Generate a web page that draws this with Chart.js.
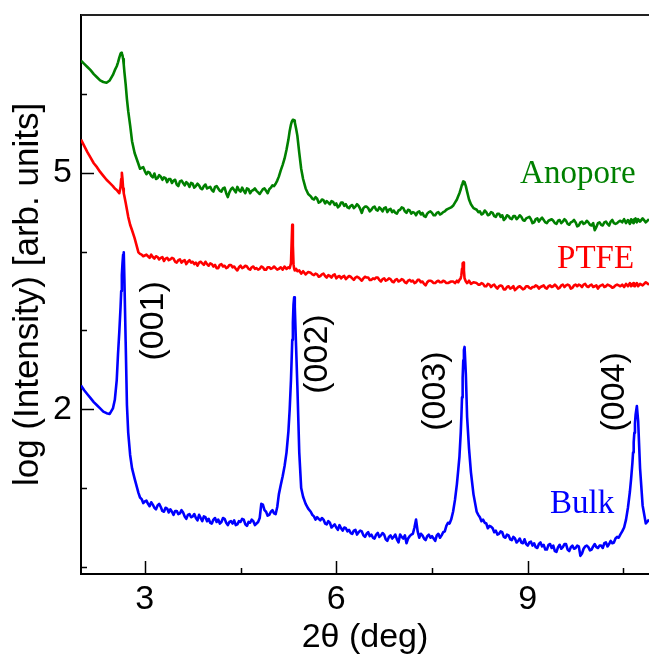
<!DOCTYPE html>
<html>
<head>
<meta charset="utf-8">
<script src="https://cdn.jsdelivr.net/npm/chart.js@4/dist/chart.umd.min.js"></script>
<style>
html,body{margin:0;padding:0;background:#fff;}
#wrap{position:relative;width:649px;height:658px;}
</style>
</head>
<body>
<div id="wrap"><canvas id="c" width="649" height="658"></canvas></div>
<script>
// 2θ grid (deg)
const twoTheta = [
2.00,2.05,2.10,2.15,2.20,2.25,2.30,2.35,2.40,2.45,2.50,
2.53,2.56,2.58,2.60,2.62,2.63,2.64,2.65,2.66,2.67,2.68,2.70,2.72,2.74,2.77,2.80,2.84,
2.900,2.925,2.950,2.975,3.000,3.025,3.050,3.075,3.100,3.125,3.150,3.175,3.200,3.225,3.250,3.275,3.300,3.325,3.350,3.375,3.400,3.425,3.450,3.475,3.500,3.525,3.550,3.575,3.600,3.625,3.650,3.675,3.700,3.725,3.750,3.775,3.800,3.825,3.850,3.875,3.900,3.925,3.950,3.975,4.000,4.025,4.050,4.075,4.100,4.125,4.150,4.175,4.200,4.225,4.250,4.275,4.300,4.325,4.350,4.375,4.400,4.425,4.450,4.475,4.500,4.525,4.550,4.575,4.600,4.625,4.650,4.675,4.700,4.725,4.750,4.775,4.800,4.825,4.850,4.875,4.900,4.925,4.950,4.975,5.000,5.025,5.050,5.075,5.100,
5.13,5.16,5.19,5.22,5.25,5.27,5.29,5.30,5.31,5.32,5.33,5.34,5.35,5.37,5.39,5.42,5.45,5.48,5.52,5.56,
5.600,5.625,5.650,5.675,5.700,5.725,5.750,5.775,5.800,5.825,5.850,5.875,5.900,5.925,5.950,5.975,6.000,6.025,6.050,6.075,6.100,6.125,6.150,6.175,6.200,6.225,6.250,6.275,6.300,6.325,6.350,6.375,6.400,6.425,6.450,6.475,6.500,6.525,6.550,6.575,6.600,6.625,6.650,6.675,6.700,6.725,6.750,6.775,6.800,6.825,6.850,6.875,6.900,6.925,6.950,6.975,7.000,7.025,7.050,7.075,7.100,7.125,7.150,7.175,7.200,7.225,7.250,7.275,7.300,7.325,7.350,7.375,7.400,7.425,7.450,7.475,7.500,7.525,7.550,7.575,7.600,7.625,7.650,7.675,7.700,7.725,7.750,7.775,7.800,
7.83,7.86,7.89,7.91,7.93,7.95,7.96,7.97,7.98,7.99,8.00,8.01,8.03,8.05,8.08,8.11,8.15,
8.200,8.225,8.250,8.275,8.300,8.325,8.350,8.375,8.400,8.425,8.450,8.475,8.500,8.525,8.550,8.575,8.600,8.625,8.650,8.675,8.700,8.725,8.750,8.775,8.800,8.825,8.850,8.875,8.900,8.925,8.950,8.975,9.000,9.025,9.050,9.075,9.100,9.125,9.150,9.175,9.200,9.225,9.250,9.275,9.300,9.325,9.350,9.375,9.400,9.425,9.450,9.475,9.500,9.525,9.550,9.575,9.600,9.625,9.650,9.675,9.700,9.725,9.750,9.775,9.800,9.825,9.850,9.875,9.900,9.925,9.950,9.975,10.000,10.025,10.050,10.075,10.100,10.125,10.150,10.175,10.200,10.225,10.250,10.275,10.300,10.325,10.350,10.375,10.400,10.425,10.450,
10.48,10.51,10.54,10.57,10.60,10.62,10.64,10.65,10.66,10.67,10.68,10.69,10.71,10.73,10.76,10.80,10.85,10.90
];

// log(Intensity), Anopore
const anopore = [
6.42,6.38,6.34,6.30,6.25,6.21,6.17,6.15,6.14,6.17,6.24,
6.30,6.35,6.40,6.46,6.51,6.52,6.51,6.49,6.44,6.37,6.28,6.12,5.93,5.78,5.60,5.40,5.25,
5.11,5.05,5.06,5.07,5.02,4.98,5.01,5.00,4.96,4.94,4.99,4.92,4.93,4.97,4.95,4.91,4.94,4.93,4.88,4.92,4.92,4.87,4.90,4.91,4.85,4.83,4.89,4.90,4.87,4.84,4.88,4.86,4.82,4.87,4.86,4.81,4.83,4.86,4.84,4.80,4.79,4.83,4.85,4.80,4.81,4.82,4.78,4.76,4.82,4.83,4.80,4.77,4.76,4.80,4.81,4.74,4.69,4.75,4.79,4.81,4.78,4.75,4.82,4.78,4.76,4.81,4.77,4.74,4.80,4.79,4.74,4.77,4.78,4.80,4.77,4.75,4.73,4.76,4.79,4.80,4.77,4.74,4.79,4.81,4.84,4.83,4.86,4.90,4.95,
5.03,5.10,5.18,5.29,5.42,5.53,5.61,5.64,5.66,5.67,5.67,5.66,5.64,5.56,5.47,5.25,5.05,4.92,4.80,4.73,
4.70,4.67,4.66,4.69,4.67,4.62,4.63,4.66,4.65,4.61,4.64,4.62,4.60,4.64,4.63,4.59,4.61,4.56,4.58,4.62,4.62,4.58,4.60,4.56,4.55,4.58,4.59,4.55,4.57,4.60,4.58,4.54,4.49,4.55,4.57,4.57,4.55,4.51,4.53,4.56,4.57,4.53,4.52,4.56,4.54,4.51,4.55,4.56,4.50,4.53,4.54,4.50,4.52,4.49,4.48,4.52,4.53,4.56,4.55,4.51,4.49,4.53,4.52,4.48,4.50,4.49,4.46,4.50,4.51,4.47,4.49,4.45,4.44,4.48,4.50,4.51,4.49,4.46,4.46,4.49,4.50,4.47,4.48,4.50,4.51,4.53,4.54,4.55,4.56,
4.58,4.62,4.66,4.70,4.74,4.79,4.82,4.85,4.87,4.89,4.89,4.88,4.83,4.76,4.66,4.60,4.55,
4.53,4.50,4.51,4.47,4.48,4.52,4.50,4.46,4.47,4.50,4.49,4.45,4.44,4.48,4.48,4.44,4.46,4.40,4.42,4.46,4.45,4.42,4.41,4.45,4.45,4.41,4.43,4.46,4.44,4.40,4.39,4.42,4.43,4.44,4.41,4.36,4.37,4.41,4.42,4.38,4.41,4.43,4.40,4.37,4.36,4.39,4.40,4.41,4.39,4.36,4.35,4.39,4.40,4.36,4.38,4.41,4.39,4.35,4.34,4.37,4.38,4.40,4.37,4.32,4.33,4.37,4.38,4.35,4.36,4.39,4.37,4.34,4.33,4.36,4.27,4.31,4.36,4.37,4.34,4.33,4.37,4.38,4.35,4.33,4.38,4.40,4.36,4.35,4.36,4.38,4.39,
4.37,4.41,4.36,4.40,4.35,4.41,4.37,4.40,4.36,4.41,4.38,4.42,4.37,4.41,4.38,4.42,4.37,4.41
];

// log(Intensity), PTFE
const ptfe = [
5.42,5.34,5.26,5.19,5.12,5.07,5.01,4.96,4.91,4.87,4.83,
4.80,4.78,4.76,4.74,4.82,4.92,5.00,4.92,4.80,4.74,4.70,4.62,4.53,4.44,4.34,4.27,4.17,
3.99,3.97,3.96,3.94,3.95,3.96,3.94,3.92,3.96,3.93,3.91,3.94,3.93,3.90,3.92,3.93,3.88,3.91,3.92,3.89,3.90,3.92,3.91,3.87,3.86,3.89,3.90,3.86,3.88,3.89,3.84,3.87,3.89,3.86,3.87,3.84,3.86,3.82,3.86,3.87,3.85,3.83,3.87,3.84,3.82,3.85,3.84,3.81,3.83,3.79,3.79,3.83,3.84,3.81,3.82,3.79,3.80,3.83,3.83,3.80,3.81,3.78,3.76,3.80,3.82,3.79,3.80,3.82,3.81,3.78,3.77,3.80,3.81,3.78,3.79,3.77,3.78,3.81,3.80,3.77,3.77,3.80,3.80,3.78,3.79,3.81,3.79,3.77,3.78,
3.80,3.77,3.81,3.78,3.80,3.79,3.85,4.10,4.34,4.08,3.84,3.78,3.76,3.78,3.75,3.76,3.72,3.75,3.71,3.74,
3.73,3.71,3.70,3.72,3.71,3.68,3.69,3.71,3.72,3.69,3.67,3.70,3.69,3.67,3.70,3.71,3.66,3.68,3.69,3.66,3.68,3.69,3.65,3.67,3.69,3.68,3.66,3.64,3.67,3.68,3.67,3.65,3.63,3.66,3.68,3.67,3.67,3.64,3.64,3.66,3.65,3.67,3.67,3.64,3.62,3.65,3.66,3.63,3.64,3.66,3.65,3.62,3.61,3.64,3.65,3.62,3.63,3.65,3.64,3.61,3.60,3.63,3.64,3.62,3.63,3.60,3.61,3.64,3.64,3.61,3.62,3.59,3.57,3.61,3.63,3.63,3.62,3.60,3.60,3.62,3.63,3.61,3.61,3.63,3.62,3.60,3.60,3.61,3.62,
3.62,3.60,3.63,3.61,3.64,3.66,3.70,3.78,3.85,3.86,3.76,3.66,3.62,3.60,3.63,3.59,3.61,
3.60,3.58,3.58,3.60,3.59,3.56,3.56,3.59,3.58,3.55,3.57,3.58,3.55,3.53,3.56,3.57,3.56,3.52,3.52,3.55,3.56,3.53,3.54,3.56,3.51,3.53,3.55,3.56,3.54,3.52,3.53,3.56,3.56,3.54,3.53,3.55,3.55,3.57,3.56,3.53,3.55,3.56,3.57,3.54,3.53,3.56,3.57,3.55,3.56,3.58,3.56,3.53,3.54,3.57,3.58,3.55,3.57,3.58,3.57,3.53,3.54,3.57,3.58,3.56,3.58,3.57,3.55,3.58,3.59,3.56,3.55,3.57,3.58,3.55,3.56,3.57,3.53,3.56,3.57,3.58,3.55,3.56,3.58,3.57,3.56,3.54,3.55,3.57,3.58,3.57,3.56,
3.58,3.55,3.59,3.56,3.60,3.56,3.59,3.57,3.60,3.56,3.59,3.57,3.60,3.56,3.59,3.57,3.61,3.58
];

// log(Intensity), Bulk
const bulk = [
2.30,2.24,2.19,2.14,2.09,2.05,2.01,1.97,1.95,1.94,2.01,
2.12,2.37,2.70,2.98,3.30,3.50,3.70,3.85,3.96,3.99,3.65,2.85,2.05,1.70,1.42,1.25,1.12,
0.94,0.88,0.86,0.81,0.83,0.84,0.80,0.77,0.82,0.79,0.75,0.73,0.78,0.80,0.76,0.71,0.70,0.75,0.74,0.69,0.73,0.70,0.66,0.71,0.71,0.67,0.68,0.72,0.69,0.64,0.61,0.66,0.67,0.63,0.64,0.67,0.62,0.59,0.66,0.62,0.58,0.64,0.63,0.58,0.61,0.56,0.55,0.60,0.62,0.57,0.60,0.55,0.57,0.62,0.61,0.56,0.53,0.57,0.58,0.55,0.59,0.53,0.54,0.58,0.57,0.61,0.60,0.54,0.52,0.57,0.56,0.60,0.58,0.53,0.55,0.57,0.62,0.80,0.79,0.72,0.70,0.65,0.66,0.70,0.72,0.68,0.67,0.76,0.92,
1.04,1.15,1.28,1.45,1.72,2.00,2.37,2.62,2.88,3.10,3.33,3.42,3.30,2.80,2.30,1.45,1.00,0.89,0.80,0.74,
0.70,0.66,0.64,0.60,0.63,0.61,0.59,0.62,0.60,0.55,0.54,0.58,0.56,0.50,0.52,0.54,0.50,0.47,0.53,0.49,0.46,0.50,0.49,0.45,0.47,0.43,0.42,0.46,0.47,0.41,0.44,0.46,0.45,0.40,0.38,0.42,0.44,0.39,0.41,0.37,0.36,0.41,0.43,0.38,0.40,0.43,0.41,0.35,0.33,0.38,0.40,0.36,0.38,0.41,0.35,0.31,0.41,0.38,0.36,0.40,0.30,0.36,0.39,0.41,0.42,0.50,0.60,0.45,0.37,0.42,0.40,0.36,0.34,0.39,0.41,0.37,0.39,0.36,0.33,0.40,0.42,0.37,0.40,0.44,0.45,0.52,0.56,0.55,0.60,
0.70,0.85,1.05,1.22,1.40,1.70,1.90,2.15,2.40,2.62,2.75,2.79,2.45,1.90,1.50,1.20,0.92,
0.70,0.66,0.63,0.58,0.60,0.56,0.55,0.49,0.52,0.51,0.49,0.44,0.46,0.41,0.42,0.45,0.44,0.38,0.37,0.41,0.40,0.35,0.34,0.38,0.36,0.31,0.33,0.36,0.31,0.30,0.35,0.29,0.27,0.31,0.32,0.27,0.30,0.25,0.24,0.29,0.31,0.26,0.28,0.22,0.22,0.28,0.29,0.24,0.27,0.20,0.19,0.25,0.28,0.23,0.25,0.29,0.29,0.22,0.20,0.25,0.27,0.23,0.24,0.27,0.26,0.14,0.17,0.23,0.26,0.27,0.25,0.21,0.22,0.26,0.29,0.25,0.24,0.27,0.27,0.24,0.30,0.31,0.26,0.29,0.33,0.30,0.31,0.36,0.38,0.37,0.41,
0.45,0.50,0.60,0.75,0.95,1.12,1.32,1.45,1.58,1.70,1.82,1.93,2.04,1.85,1.25,0.78,0.55,0.60
];

// tick labels shown
const xTickLabels = [3, 6, 9];
const yTickLabels = [2, 5];

// text annotations (data coordinates)
const peakLabels = [
  {text: '(001)', x: 3.144, y: 3.12},
  {text: '(002)', x: 5.715, y: 2.70},
  {text: '(003)', x: 7.564, y: 2.23},
  {text: '(004)', x: 10.354, y: 2.22}
];
const seriesLabels = [
  {text: 'Anopore', x: 8.88, y: 4.87, color: '#008000'},
  {text: 'PTFE', x: 9.46, y: 3.79, color: '#ff0000'},
  {text: 'Bulk', x: 9.35, y: 0.685, color: '#0000ff'}
];

const SANS = '"Liberation Sans", Arial, Helvetica, sans-serif';
const SERIF = '"Liberation Serif", "Times New Roman", serif';

function pts(arr){ return twoTheta.map((x,i)=>({x:x, y:arr[i]})); }

const decor = {
  id: 'decor',
  afterDatasetsDraw(chart){
    const ctx = chart.ctx, xs = chart.scales.x, ys = chart.scales.y;
    ctx.save();
    ctx.fillStyle = '#000';
    ctx.font = '34px ' + SANS;
    ctx.textAlign = 'center';
    ctx.textBaseline = 'middle';
    peakLabels.forEach(p=>{
      ctx.save();
      ctx.translate(xs.getPixelForValue(p.x), ys.getPixelForValue(p.y));
      ctx.rotate(-Math.PI/2);
      ctx.fillText(p.text, 0, 0);
      ctx.restore();
    });
    ctx.font = '33px ' + SERIF;
    ctx.textAlign = 'left';
    ctx.textBaseline = 'alphabetic';
    seriesLabels.forEach(s=>{
      ctx.fillStyle = s.color;
      ctx.fillText(s.text, xs.getPixelForValue(s.x), ys.getPixelForValue(s.y));
    });
    ctx.restore();
  },
  afterDraw(chart){
    const ctx = chart.ctx, xs = chart.scales.x, ys = chart.scales.y, ca = chart.chartArea;
    ctx.save();
    ctx.strokeStyle = '#000';
    ctx.lineWidth = 1.5;
    ctx.beginPath();
    xs.ticks.forEach(t=>{
      const px = Math.round(xs.getPixelForValue(t.value)) + 0.5;
      const len = xTickLabels.includes(t.value) ? 13 : 6;
      ctx.moveTo(px, ca.bottom); ctx.lineTo(px, ca.bottom - len);
    });
    ys.ticks.forEach(t=>{
      if (t.value >= 7) return;
      const py = Math.round(ys.getPixelForValue(t.value)) + 0.5;
      const len = yTickLabels.includes(t.value) ? 13 : 6;
      ctx.moveTo(ca.left, py); ctx.lineTo(ca.left + len, py);
    });
    ctx.stroke();
    ctx.strokeStyle = '#222';
    ctx.lineWidth = 2;
    ctx.beginPath();
    ctx.moveTo(ca.left, ca.top); ctx.lineTo(ca.right, ca.top);
    ctx.stroke();
    ctx.restore();
  }
};

const lineStyle = {pointRadius: 0, borderWidth: 2.6, tension: 0, fill: false, borderJoinStyle: 'round'};

new Chart(document.getElementById('c'), {
  type: 'line',
  data: {
    datasets: [
      Object.assign({label: 'Anopore', data: pts(anopore), borderColor: '#008000'}, lineStyle),
      Object.assign({label: 'PTFE', data: pts(ptfe), borderColor: '#ff0000'}, lineStyle),
      Object.assign({label: 'Bulk', data: pts(bulk), borderColor: '#0000ff'}, lineStyle)
    ]
  },
  options: {
    responsive: false,
    animation: false,
    devicePixelRatio: 1,
    layout: {padding: {left: 0, right: 0, top: 15, bottom: 0}},
    plugins: {legend: {display: false}, tooltip: {enabled: false}},
    scales: {
      x: {
        type: 'linear', min: 2, max: 10.9,
        grid: {display: false, drawTicks: false},
        border: {display: true, color: '#000', width: 2},
        ticks: {
          stepSize: 1.5, autoSkip: false, maxRotation: 0, includeBounds: false,
          padding: 5, color: '#000', font: {family: SANS, size: 34},
          callback: v => xTickLabels.includes(v) ? String(v) : ''
        },
        title: {display: true, text: '2θ (deg)', color: '#000', font: {family: SANS, size: 34}, padding: {top: 0, bottom: 0}},
        afterFit: s => { s.height = 84; s.paddingLeft = 0; s.paddingRight = 0; }
      },
      y: {
        type: 'linear', min: -0.09, max: 7.0,
        grid: {display: false, drawTicks: false},
        border: {display: true, color: '#000', width: 2},
        ticks: {
          stepSize: 1, autoSkip: false, includeBounds: false,
          padding: 9, color: '#000', font: {family: SANS, size: 34},
          callback: v => yTickLabels.includes(v) ? String(v) : ''
        },
        title: {display: true, text: 'log (Intensity) [arb. units]', color: '#000', font: {family: SANS, size: 35}, padding: {top: 7, bottom: 0}},
        afterFit: s => { s.width = 81; s.paddingTop = 0; s.paddingBottom = 0; }
      }
    }
  },
  plugins: [decor]
});
</script>
</body>
</html>
